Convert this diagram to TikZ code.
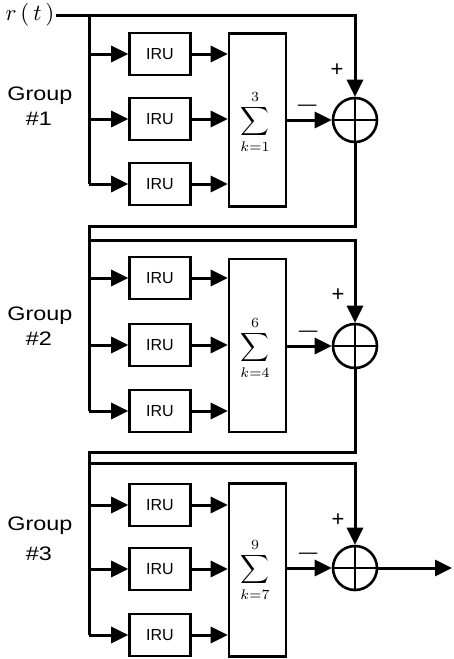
\documentclass[tikz,border=0pt]{standalone}
\usepackage{graphicx}
\usepackage{fontspec}
\setmainfont{Liberation Sans}
\newfontfamily\grpfont[FakeStretch=1.2]{Liberation Sans}
\usetikzlibrary{arrows.meta}
\newcommand{\bigsum}[2]{\scalebox{2.0}{$\displaystyle\sum_{k=#1}^{#2}$}}
\newcommand{\minussign}{\scalebox{1.5}{$-$}}
\begin{document}
\begin{tikzpicture}[x=1pt,y=-1pt,line width=3pt,
  arr/.style={-{Triangle[length=17pt,width=16pt]}},
  iru/.style={draw,line width=2.6pt,minimum width=61pt,minimum height=42pt,inner sep=0pt,font=\fontsize{16}{16}\selectfont},
  sumbox/.style={draw,line width=2.6pt,minimum width=57pt,minimum height=173pt,inner sep=0pt},
  adder/.style={draw,circle,line width=2.6pt,minimum size=44pt,inner sep=0pt},
  lbl/.style={font=\grpfont\fontsize{19.5}{20}\selectfont,anchor=base,inner sep=0pt},
  sign/.style={font=\fontsize{22}{22}\selectfont,inner sep=0pt}]
\useasboundingbox (0,0) rectangle (453,659);

% input
\node[inner sep=0pt] (rt) at (30,15) {\scalebox{2.3}{$r\,(\,t\,)$}};
\coordinate (bus1b) at (89,184);

% group labels
\node[lbl] (g1) at (40,100) {Group};
\node[lbl] (n1) at (39,125) {\#1};
\node[lbl] (g2) at (40,320) {Group};
\node[lbl] (n2) at (39,345) {\#2};
\node[lbl] (g3) at (40,530) {Group};
\node[lbl] (n3) at (39,560) {\#3};

% group 1
\node[iru] (a1) at (160,54) {IRU};
\node[iru] (a2) at (160,119) {IRU};
\node[iru] (a3) at (160,184) {IRU};
\node[sumbox] (s1) at (257.5,120) {};
\node[inner sep=0pt] (e1) at (255,122) {\bigsum{1}{3}};
\node[adder] (c1) at (355,120) {};
\coordinate (s1a) at (s1.west |- a1);
\coordinate (s1b) at (s1.west |- a2);
\coordinate (s1c) at (s1.west |- a3);
\coordinate (top1) at (rt.east -| c1.north);
\coordinate (bus1a) at (rt.east -| bus1b);

% group 2
\node[iru] (b1) at (160,278) {IRU};
\node[iru] (b2) at (160,345) {IRU};
\node[iru] (b3) at (160,411) {IRU};
\node[sumbox] (s2) at (257.5,345.5) {};
\node[inner sep=0pt] (e2) at (255,348) {\bigsum{4}{6}};
\node[adder] (c2) at (355,346) {};
\coordinate (s2a) at (s2.west |- b1);
\coordinate (s2b) at (s2.west |- b2);
\coordinate (s2c) at (s2.west |- b3);

% group 3
\node[iru] (d1) at (160,505) {IRU};
\node[iru] (d2) at (160,569) {IRU};
\node[iru] (d3) at (160,635) {IRU};
\node[sumbox] (s3) at (257.5,570) {};
\node[inner sep=0pt] (e3) at (255,570) {\bigsum{7}{9}};
\node[adder] (c3) at (355,568) {};
\coordinate (s3a) at (s3.west |- d1);
\coordinate (s3b) at (s3.west |- d2);
\coordinate (s3c) at (s3.west |- d3);

% plus crosses
\foreach \c in {c1,c2,c3}{
  \draw[line width=2.6pt] (\c.north) -- (\c.south);
  \draw[line width=2.6pt] (\c.west) -- (\c.east);
}

% signs
\node[sign] (p1) at (337,70) {+};
\node[sign] (m1) at (308,106) {\minussign};
\node[sign] (p2) at (338,295) {+};
\node[sign] (m2) at (309,332) {\minussign};
\node[sign] (p3) at (338,520) {+};
\node[sign] (m3) at (309,554) {\minussign};

% group 1 wiring
\draw[arr] (rt.east) -- (top1) -- (c1.north);
\draw (bus1a) -- (bus1b);
\draw[arr] (bus1a |- a1) -- (a1.west);
\draw[arr] (bus1a |- a2) -- (a2.west);
\draw[arr] (bus1a |- a3) -- (a3.west);
\draw[arr] (a1.east) -- (s1a);
\draw[arr] (a2.east) -- (s1b);
\draw[arr] (a3.east) -- (s1c);
\draw[arr] (s1.east |- c1) -- (c1.west);

% feedback 1 -> group 2
\coordinate (f1r) at (355,226);
\coordinate (f1l) at (89,226);
\coordinate (bus2b) at (89,411);
\coordinate (t2l) at (89,240);
\coordinate (t2r) at (355,240);
\draw (c1.south) -- (f1r) -- (f1l) -- (bus2b);
\draw[arr] (t2l) -- (t2r) -- (c2.north);
\draw[arr] (f1l |- b1) -- (b1.west);
\draw[arr] (f1l |- b2) -- (b2.west);
\draw[arr] (f1l |- b3) -- (b3.west);
\draw[arr] (b1.east) -- (s2a);
\draw[arr] (b2.east) -- (s2b);
\draw[arr] (b3.east) -- (s2c);
\draw[arr] (s2.east |- c2) -- (c2.west);

% feedback 2 -> group 3
\coordinate (f2r) at (355,452);
\coordinate (f2l) at (89,452);
\coordinate (bus3b) at (89,635);
\coordinate (t3l) at (89,463);
\coordinate (t3r) at (355,463);
\draw (c2.south) -- (f2r) -- (f2l) -- (bus3b);
\draw[arr] (t3l) -- (t3r) -- (c3.north);
\draw[arr] (f2l |- d1) -- (d1.west);
\draw[arr] (f2l |- d2) -- (d2.west);
\draw[arr] (f2l |- d3) -- (d3.west);
\draw[arr] (d1.east) -- (s3a);
\draw[arr] (d2.east) -- (s3b);
\draw[arr] (d3.east) -- (s3c);
\draw[arr] (s3.east |- c3) -- (c3.west);

% output
\coordinate (out) at (452,568);
\draw[arr] (c3.east) -- (out);
\end{tikzpicture}
\end{document}
